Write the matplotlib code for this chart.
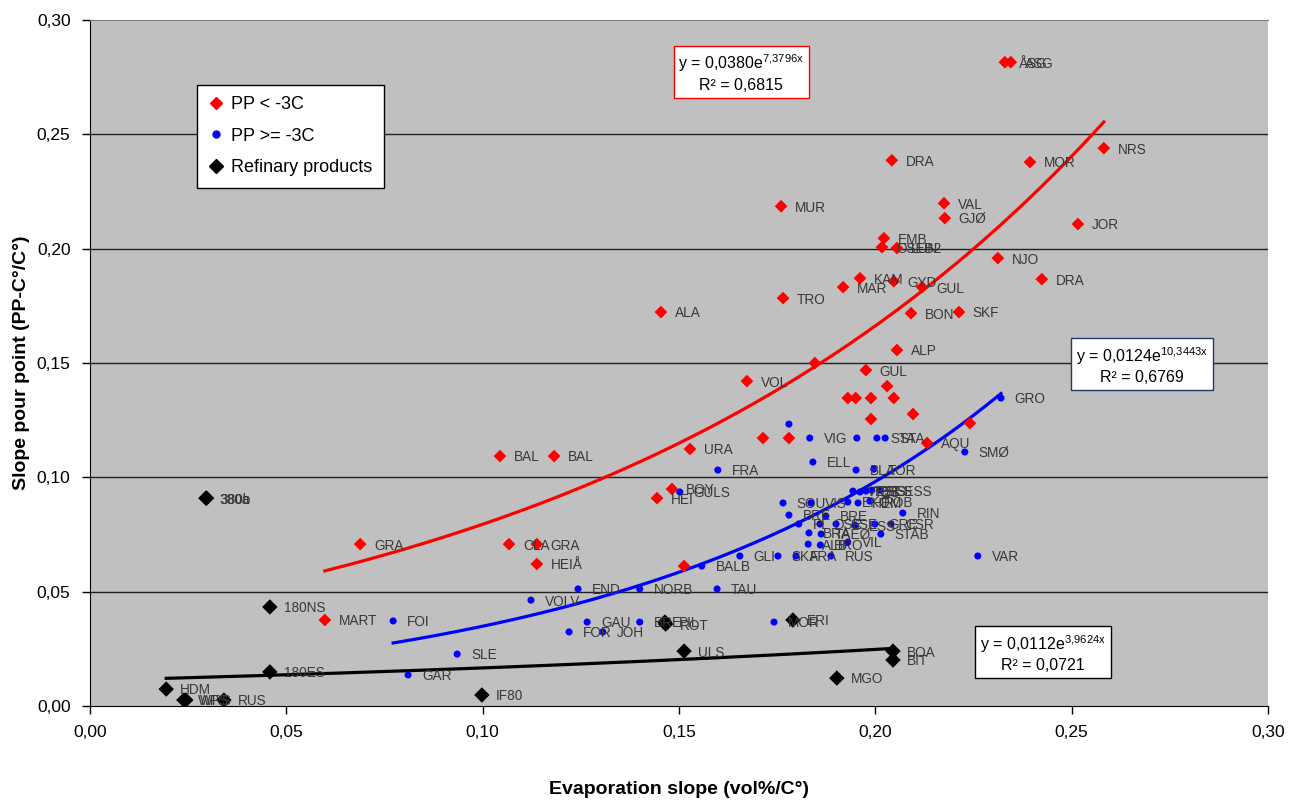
import numpy as np
import matplotlib
matplotlib.use('Agg')
import matplotlib.pyplot as plt
from matplotlib.lines import Line2D
from matplotlib.ticker import FuncFormatter

plt.rcParams['font.family'] = ['Liberation Sans', 'DejaVu Sans']
plt.rcParams['mathtext.default'] = 'regular'

# PP < -3C
red_x = [0.2330, 0.2345, 0.2582, 0.2394, 0.2042, 0.2175, 0.2177, 0.1760, 0.2516, 0.2022,
         0.2017, 0.2055, 0.2312, 0.2424, 0.1961, 0.2047, 0.1918, 0.2119, 0.1765, 0.1454,
         0.2091, 0.2213, 0.2055, 0.1846, 0.1976, 0.1673, 0.2030, 0.1930, 0.1950, 0.1989,
         0.2047, 0.2096, 0.1989, 0.2241, 0.1528, 0.1714, 0.1780, 0.2132, 0.1044, 0.1182,
         0.1482, 0.1444, 0.0688, 0.1067, 0.1138, 0.1138, 0.1513, 0.0598]
red_y = [0.2816, 0.2816, 0.2440, 0.2379, 0.2387, 0.2199, 0.2134, 0.2186, 0.2108, 0.2046,
         0.2007, 0.2003, 0.1959, 0.1867, 0.1871, 0.1858, 0.1832, 0.1832, 0.1784, 0.1723,
         0.1718, 0.1723, 0.1557, 0.1500, 0.1469, 0.1421, 0.1399, 0.1347, 0.1347, 0.1347,
         0.1347, 0.1277, 0.1255, 0.1237, 0.1124, 0.1172, 0.1172, 0.1150, 0.1093, 0.1093,
         0.0949, 0.0909, 0.0708, 0.0708, 0.0708, 0.0621, 0.0612, 0.0376]
red_lab = ['ÅSG', 'ASG', 'NRS', 'MOR', 'DRA', 'VAL', 'GJØ', 'MUR', 'JOR', 'EMB',
           'OSEB2', 'LUN', 'NJO', 'DRA', 'KAM', 'GYD', 'MAR', 'GUL', 'TRO', 'ALA',
           'BON', 'SKF', 'ALP', '', 'GUL', 'VOL', '', '', '', '',
           '', '', '', '', 'URA', '', '', 'AQU', 'BAL', 'BAL',
           'BOY', 'HEI', 'GRA', 'CLA', 'GRA', 'HEIÅ', '', 'MART']

# PP >= -3C
blue_x = [0.2320, 0.2228, 0.2261, 0.1780, 0.1833, 0.1953, 0.2004, 0.2025, 0.1841, 0.1951,
          0.1996, 0.1599, 0.1502, 0.1943, 0.1961, 0.1976, 0.1991, 0.2012, 0.1930, 0.1956,
          0.1986, 0.2070, 0.1765, 0.1836, 0.1780, 0.1874, 0.1805, 0.1859, 0.1900, 0.1948,
          0.1999, 0.2040, 0.2014, 0.1831, 0.1862, 0.1829, 0.1860, 0.1930, 0.1655, 0.1752,
          0.1798, 0.1887, 0.1558, 0.1597, 0.1400, 0.1243, 0.1123, 0.1266, 0.1400, 0.1220,
          0.1306, 0.0935, 0.0810, 0.0772, 0.1742]
blue_y = [0.1347, 0.1111, 0.0656, 0.1233, 0.1172, 0.1172, 0.1172, 0.1172, 0.1067, 0.1032,
          0.1036, 0.1032, 0.0936, 0.0940, 0.0936, 0.0940, 0.0944, 0.0944, 0.0892, 0.0888,
          0.0896, 0.0844, 0.0888, 0.0888, 0.0835, 0.0831, 0.0796, 0.0796, 0.0796, 0.0791,
          0.0796, 0.0796, 0.0752, 0.0757, 0.0752, 0.0708, 0.0704, 0.0717, 0.0656, 0.0656,
          0.0656, 0.0656, 0.0612, 0.0512, 0.0512, 0.0512, 0.0463, 0.0367, 0.0367, 0.0324,
          0.0324, 0.0227, 0.0136, 0.0372, 0.0367]
blue_lab = ['GRO', 'SMØ', 'VAR', '', 'VIG', '', 'STA', 'STA', 'ELL', 'BLA',
            'TOR', 'FRA', 'GULS', 'VES', 'TES', 'BES', 'SES', 'GESS', 'EKO', 'HEM',
            'ROB', 'RIN', 'SOU', 'VIS', 'BRE', 'BRE', 'PL', 'OSE', 'SSE', 'ESS',
            'GRE', 'CSR', 'STAB', 'BRA', 'TAEØ', 'ALB', 'BRO', 'VIL', 'GLI', 'SKA',
            'FRA', 'RUS', 'BALB', 'TAU', 'NORB', 'END', 'VOLV', 'GAU', 'BRE', 'FOR',
            'JOH', 'SLE', 'GAR', 'FOI', 'MOR']

# Refinary products
blk_x = [0.0194, 0.0239, 0.0244, 0.0341, 0.0458, 0.0458, 0.0295, 0.0297, 0.0998, 0.1513,
         0.1464, 0.1466, 0.1790, 0.2045, 0.2045, 0.1902]
blk_y = [0.0074, 0.0026, 0.0026, 0.0026, 0.0149, 0.0433, 0.0909, 0.0909, 0.0048, 0.0240,
         0.0367, 0.0358, 0.0376, 0.0240, 0.0201, 0.0122]
blk_lab = ['HDM', 'WPS', 'WRS', 'RUS', '180ES', '180NS', '380a', '380b', 'IF80', 'ULS',
           'PIL', 'ROT', 'ERI', 'BOA', 'BIT', 'MGO']

# exponential trendlines y = a*exp(b*x)
fits = [(0.0380, 7.3796, 0.6815, 'red'),
        (0.0124, 10.3443, 0.6769, 'blue'),
        (0.0112, 3.9624, 0.0721, 'black')]

fig = plt.figure(figsize=(13.01, 8.05), dpi=100)
ax = fig.add_axes([0.0692, 0.123, 0.9054, 0.852])
ax.set_facecolor('#C0C0C0')

for lvl in np.arange(0.05, 0.30, 0.05):
    ax.axhline(lvl, color='#202020', lw=1.0, zorder=1)

groups = [(red_x, red_y, red_lab, 'red', 'D', 42),
          (blue_x, blue_y, blue_lab, 'blue', 'o', 26),
          (blk_x, blk_y, blk_lab, 'black', 'D', 62)]

for (xs, ys, labs, col, mk, sz), (a, b, r2, lc) in zip(groups, fits):
    xx = np.linspace(min(xs), max(xs), 200)
    ax.plot(xx, a * np.exp(b * xx), color=lc, lw=2.3, zorder=3)
    ax.scatter(xs, ys, s=sz, marker=mk, color=col, edgecolors='none', zorder=4)
    for x, y, t in zip(xs, ys, labs):
        if t:
            ax.annotate(t, (x, y), xytext=(10, -1), textcoords='offset points',
                        va='center', ha='left', fontsize=9.8, color='#383838', zorder=5)

def eq_text(a, b):
    fa = f'{a:.4f}'.replace('.', ',')
    fb = f'{b:.4f}'.replace('.', '{,}')
    return f'y = {fa}e$^{{{fb}x}}$'

boxes = [(0.553, 0.923, 'red'), (0.893, 0.497, '#1F3A68'), (0.809, 0.077, 'black')]
for (a, b, r2, lc), (bx, by, ec) in zip(fits, boxes):
    txt = eq_text(a, b) + '\n' + f'R² = {r2:.4f}'.replace('.', ',')
    ax.text(bx, by, txt, transform=ax.transAxes, ha='center', va='center',
            fontsize=11.5, linespacing=1.3, zorder=6,
            bbox=dict(boxstyle='square,pad=0.3', fc='white', ec=ec, lw=1.0))

handles = [Line2D([], [], ls='none', marker='D', color='red', ms=6.5),
           Line2D([], [], ls='none', marker='o', color='blue', ms=5),
           Line2D([], [], ls='none', marker='D', color='black', ms=7)]
leg = ax.legend(handles, ['PP < -3C', 'PP >= -3C', 'Refinary products'],
                loc='upper left', bbox_to_anchor=(0.091, 0.906), borderaxespad=0,
                fontsize=13, frameon=True, fancybox=False, framealpha=1,
                edgecolor='black', handlelength=0.8, handletextpad=0.4,
                borderpad=0.65, labelspacing=0.8)
leg.get_frame().set_linewidth(1.0)
leg.set_zorder(7)

ax.set_xlim(0, 0.30)
ax.set_ylim(0, 0.30)
ax.set_xticks(np.arange(0, 0.301, 0.05))
ax.set_yticks(np.arange(0, 0.301, 0.05))
fmt = FuncFormatter(lambda v, p: f'{v:.2f}'.replace('.', ','))
ax.xaxis.set_major_formatter(fmt)
ax.yaxis.set_major_formatter(fmt)
ax.tick_params(direction='out', length=6, width=1, labelsize=12.5, pad=8, colors='black')
ax.spines['right'].set_visible(False)
ax.spines['top'].set_color('#808080')
for s in ('left', 'bottom'):
    ax.spines[s].set_color('black')

ax.set_xlabel('Evaporation slope (vol%/C°)', fontsize=14, fontweight='bold', labelpad=29)
ax.set_ylabel('Slope pour point (PP-C°/C°)', fontsize=14, fontweight='bold', labelpad=5)

fig.savefig('out.png', dpi=100)
